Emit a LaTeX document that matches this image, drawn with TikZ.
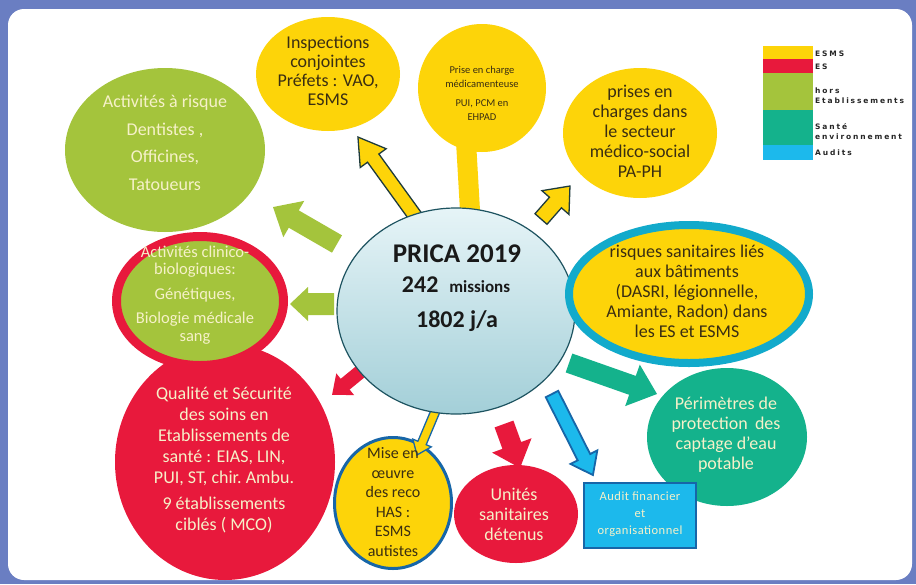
\documentclass[tikz,border=0pt]{standalone}
\usepackage{fontspec}
\setmainfont{Carlito}
\newfontfamily\legfont[LetterSpace=25]{DejaVu Sans}
\newfontfamily\auditfont[LetterSpace=4]{Carlito}
\usetikzlibrary{shapes.geometric}
\definecolor{frameblue}{HTML}{6A7EC2}
\definecolor{cyel}{HTML}{FDD409}
\definecolor{cred}{HTML}{E8193C}
\definecolor{cgreen}{HTML}{A4C43C}
\definecolor{cteal}{HTML}{14B28C}
\definecolor{ccyan}{HTML}{1CB9EC}
\definecolor{cdblue}{HTML}{1766A8}
\definecolor{cring}{HTML}{12AACB}
\definecolor{darktxt}{HTML}{3A2E12}
\definecolor{lighttxt}{HTML}{F6F1C9}
\definecolor{outl}{HTML}{1E3B3C}
\definecolor{ctop}{HTML}{E6F4F7}
\definecolor{cbot}{HTML}{A3CFD8}
\definecolor{cborder}{HTML}{1D5360}
\newcommand{\blockarr}[8]{%
  \begin{scope}[shift={(#2,#3)},rotate=#4]
    \path[#1] (0,-#6) -- ({#5-#8},-#6) -- ({#5-#8},-#7) -- (#5,0) -- ({#5-#8},#7) -- ({#5-#8},#6) -- (0,#6) -- cycle;
  \end{scope}}
\begin{document}
\begin{tikzpicture}[x=1pt,y=-1pt,
  blob/.style={ellipse, inner sep=0pt, outer sep=0pt},
  txt/.style={align=center, inner sep=0pt, font=\fontsize{18}{20}\selectfont},
  dark/.style={text=darktxt},
  light/.style={text=lighttxt},
  legbox/.style={inner sep=0pt, outer sep=0pt, minimum width=50pt},
  legtxt/.style={anchor=west, inner sep=0pt, align=left, text=black!85, font=\legfont\bfseries\fontsize{7.5}{10}\selectfont}]
\useasboundingbox (0,0) rectangle (916,584);
\fill[frameblue] (0,0) rectangle (916,584);
\fill[white, rounded corners=16pt] (8,9) rectangle (912,580);

% bar under the Prise circle
\blockarr{fill=cyel}{471}{228}{93.3}{88}{10}{10}{0.01}

% outer nodes
\node[blob, fill=cgreen, minimum width=200pt, minimum height=164pt] (risk) at (165,150) {};
\node[blob, fill=cyel, minimum width=144pt, minimum height=114pt] (insp) at (328,74) {};
\node[blob, fill=cyel, minimum width=128pt, minimum height=128pt] (prise) at (482,88) {};
\node[blob, fill=cyel, minimum width=154pt, minimum height=130pt] (pec) at (640,133) {};
\node[blob, fill=cteal, minimum width=160pt, minimum height=138pt] (peri) at (727,437) {};
\node[blob, fill=cred, minimum width=124pt, minimum height=98pt] (unit) at (516,514) {};
\node[blob, fill=cyel, draw=cdblue, line width=3pt, minimum width=117pt, minimum height=131pt] (mise) at (393,503) {};
\node[blob, fill=cred, minimum width=220pt, minimum height=236pt] (qual) at (225,462) {};
\node[blob, fill=cgreen, draw=cred, line width=9pt, minimum width=167pt, minimum height=129pt] (clin) at (200,301) {};
\node[fill=ccyan, draw=cdblue, line width=2.5pt, inner sep=0pt, minimum width=112pt, minimum height=65pt] (audit) at (640,515.5) {};

% block arrows
\blockarr{fill=cyel, draw=outl, line width=1.3pt}{418}{220}{125.9}{102.4}{7}{16}{26}
\blockarr{fill=cyel, draw=outl, line width=1.3pt}{541}{219}{48.7}{43.9}{8}{18}{22}
\blockarr{fill=cgreen}{337}{244}{150}{73.9}{10}{21}{24}
\blockarr{fill=cgreen}{334}{304}{180}{44}{11}{17}{18}
\blockarr{fill=cred}{360}{372}{-140.6}{36.2}{7}{14}{17}
\blockarr{fill=cyel, draw=cdblue, line width=1.3pt}{438}{405}{-112.8}{54.2}{4.5}{10}{13}
\blockarr{fill=cred}{504}{424}{-70}{46.8}{10}{21}{24}
\blockarr{fill=ccyan, draw=cdblue, line width=1.8pt}{552}{394}{-63.2}{90.8}{7}{15}{20}
\blockarr{fill=cteal}{569}{363}{-19.4}{93.3}{10}{22}{26}

% centre
\node[blob, top color=ctop, bottom color=cbot, draw=cborder, line width=1.2pt, minimum width=238pt, minimum height=206pt] (centre) at (456,311) {};
\node[blob, fill=cyel, draw=cring, line width=8pt, minimum width=240pt, minimum height=138pt] (bati) at (689,294) {};

% texts
\node[txt, light, font=\fontsize{18}{19}\selectfont] (risk-t) at (165,143) {Activités à risque\\[9pt] Dentistes ,\\[8pt] Officines,\\[9pt] Tatoueurs};
\node[txt, dark, font=\fontsize{18}{19}\selectfont] (insp-t) at (328,71) {Inspections\\conjointes\\Préfets : VAO,\\ESMS};
\node[txt, dark, font=\fontsize{10.5}{14}\selectfont] (prise-t) at (482,93) {Prise en charge\\médicamenteuse\\[5pt]PUI, PCM en\\EHPAD};
\node[txt, dark] (pec-t) at (640,131) {prises en\\charges dans\\le secteur\\médico-social\\PA-PH};
\node[txt, dark] (bati-t) at (687,291) {risques sanitaires liés\\aux bâtiments\\(DASRI, légionnelle,\\Amiante, Radon) dans\\les ES et ESMS};
\node[txt, light] (peri-t) at (726,435) {Périmètres de\\protection\hspace{0.4em}des\\captage d’eau\\potable};
\node[txt, light, font=\auditfont\fontsize{12.5}{17}\selectfont] (audit-t) at (640,514) {Audit financier\\et\\organisationnel};
\node[txt, light] (unit-t) at (514,514) {Unités\\sanitaires\\détenus};
\node[txt, dark, font=\fontsize{16}{19.5}\selectfont] (mise-t) at (393,502) {Mise en\\œuvre\\des reco\\HAS :\\ESMS\\autistes};
\node[txt, light, font=\fontsize{18}{21}\selectfont] (qual-t) at (224,460) {Qualité et Sécurité\\des soins en\\Etablissements de\\santé : EIAS, LIN,\\PUI, ST, chir.\ Ambu.\\[5pt]9 établissements\\ciblés ( MCO)};
\node[txt, light, font=\fontsize{16.5}{17.5}\selectfont] (clin-t) at (195,295) {Activités clinico-\\biologiques:\\[7pt]Génétiques,\\[7pt]Biologie médicale\\sang};

\node[txt, text=black!90, font=\bfseries\fontsize{27}{30}\selectfont] (c1) at (457,254) {PRICA 2019};
\node[txt, text=black!90, font=\bfseries\fontsize{24}{26}\selectfont] (c2) at (456,285) {242\ \ {\fontsize{17}{18}\selectfont missions}};
\node[txt, text=black!90, font=\bfseries\fontsize{24}{26}\selectfont] (c3) at (457,321) {1802 j/a};

% legend
\node[legbox, fill=cyel, minimum height=13pt, anchor=north west] (l1) at (763,46) {};
\node[legbox, fill=cred, minimum height=14pt, anchor=north west] (l2) at (763,59) {};
\node[legbox, fill=cgreen, minimum height=37pt, anchor=north west] (l3) at (763,73) {};
\node[legbox, fill=cteal, minimum height=35pt, anchor=north west] (l4) at (763,110) {};
\node[legbox, fill=ccyan, minimum height=15pt, anchor=north west] (l5) at (763,145) {};
\node[legtxt] (t1) at (815,54) {ESMS};
\node[legtxt] (t2) at (815,67) {ES};
\node[legtxt] (t3) at (815,96) {hors\\Etablissements};
\node[legtxt] (t4) at (815,132) {Santé\\environnement};
\node[legtxt] (t5) at (815,153) {Audits};
\end{tikzpicture}
\end{document}
